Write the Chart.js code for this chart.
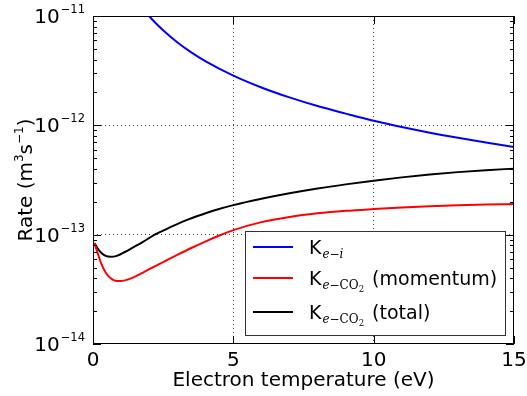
<!DOCTYPE html>
<html>
<head>
<meta charset="utf-8">
<script src="https://cdn.jsdelivr.net/npm/chart.js@4/dist/chart.umd.min.js"></script>
<style>
  body { margin: 0; background: #fff; }
  #wrap { width: 527px; height: 396px; }
</style>
</head>
<body>
<div id="wrap"><canvas id="rates" width="527" height="396"></canvas></div>
<script>
// electron temperature (eV) and rate (m^3 s^-1)
const tempIon = [1.5, 2, 2.5, 3, 3.5, 4, 5, 6, 7, 8, 9, 10, 11, 12, 13, 14, 15]
const rateIon = [1.5e-11, 1.0e-11, 7.4e-12, 5.75e-12, 4.65e-12, 3.87e-12, 2.85e-12, 2.22e-12, 1.8e-12,
                 1.5e-12, 1.28e-12, 1.1e-12, 0.965e-12, 0.857e-12, 0.77e-12, 0.696e-12, 0.635e-12]

const tempMom = [0.05, 0.15, 0.3, 0.45, 0.6, 0.85, 1.1, 1.4, 1.7, 2, 2.5, 3, 3.5, 4, 4.5, 5,
                 6, 7, 8, 9, 10, 11, 12, 13, 14, 15]
const rateMom = [8.4e-14, 7.0e-14, 5.4e-14, 4.5e-14, 4.05e-14, 3.76e-14, 3.8e-14, 4.03e-14, 4.4e-14,
                 4.84e-14, 5.62e-14, 6.53e-14, 7.55e-14, 8.65e-14, 9.82e-14, 1.1e-13, 1.303e-13, 1.452e-13,
                 1.567e-13, 1.652e-13, 1.714e-13, 1.77e-13, 1.816e-13, 1.854e-13, 1.884e-13, 1.91e-13]

const tempTotal = [0.05, 0.15, 0.3, 0.45, 0.62, 0.85, 1.15, 1.45, 1.75, 2.2, 2.5, 2.94, 3.4, 3.89,
                   4.4, 5, 6, 7, 8, 9, 10, 11, 12, 13, 14, 15]
const rateTotal = [8.4e-14, 7.6e-14, 6.8e-14, 6.4e-14, 6.28e-14, 6.4e-14, 6.98e-14, 7.7e-14, 8.5e-14,
                   1.0e-13, 1.09e-13, 1.23e-13, 1.38e-13, 1.53e-13, 1.69e-13, 1.862e-13, 2.128e-13, 2.388e-13,
                   2.642e-13, 2.884e-13, 3.119e-13, 3.342e-13, 3.548e-13, 3.733e-13, 3.89e-13, 4.018e-13]

const xTicks = [0, 5, 10, 15]
const yTicks = [1e-14, 1e-13, 1e-12, 1e-11]
const yTickBase = '10'
const yTickExp = ['−14', '−13', '−12', '−11']

// axis title pieces, odd entries are superscripts
const yTitleParts = ['Rate (m', '3', 's', '−1', ')']
const xTitle = 'Electron temperature (eV)'

// legend: main letter, subscript, trailing text
const legendMain = ['K', 'K', 'K']
const legendSub = ['e−i', 'e−CO2', 'e−CO2']
const legendTail = ['', ' (momentum)', ' (total)']

const FONT = 'DejaVu Sans'

const toPoints = (xs, ys) => xs.map((t, i) => ({ x: t, y: ys[i] }))

const frameAndLegend = {
    id: 'frameAndLegend',
    afterDatasetsDraw(chart) {
        const { ctx, chartArea: a, scales: { x, y } } = chart
        ctx.save()
        ctx.strokeStyle = '#000'
        ctx.lineWidth = 1

        // minor ticks on the log axis, both sides
        ctx.beginPath()
        for (let n = -14; n < -11; n++) {
            for (let m = 2; m < 10; m++) {
                const py = Math.round(y.getPixelForValue(m * Math.pow(10, n))) + 0.5
                ctx.moveTo(a.left, py); ctx.lineTo(a.left + 4, py)
                ctx.moveTo(a.right, py); ctx.lineTo(a.right - 4, py)
            }
        }
        // major ticks
        yTicks.forEach(v => {
            const py = Math.round(y.getPixelForValue(v)) + 0.5
            ctx.moveTo(a.left, py); ctx.lineTo(a.left + 8, py)
            ctx.moveTo(a.right, py); ctx.lineTo(a.right - 8, py)
        })
        xTicks.forEach(v => {
            const px = Math.round(x.getPixelForValue(v)) + 0.5
            ctx.moveTo(px, a.top); ctx.lineTo(px, a.top + 8)
            ctx.moveTo(px, a.bottom); ctx.lineTo(px, a.bottom - 8)
        })
        ctx.stroke()

        // y tick labels with a raised exponent
        ctx.fillStyle = '#000'
        ctx.textBaseline = 'alphabetic'
        ctx.textAlign = 'right'
        yTicks.forEach((v, i) => {
            const py = y.getPixelForValue(v)
            ctx.font = '11.5px "' + FONT + '"'
            const ew = ctx.measureText(yTickExp[i]).width
            ctx.fillText(yTickExp[i], a.left - 8, py - 3)
            ctx.font = '20px "' + FONT + '"'
            ctx.fillText(yTickBase, a.left - 9 - ew, py + 7)
        })

        // y axis title
        ctx.save()
        ctx.translate(32, (a.top + a.bottom) / 2)
        ctx.rotate(-Math.PI / 2)
        ctx.textAlign = 'left'
        const pieceFont = (i) => (i % 2 ? '12px "' : '20px "') + FONT + '"'
        let total = 0
        yTitleParts.forEach((p, i) => { ctx.font = pieceFont(i); total += ctx.measureText(p).width })
        let tx = -total / 2
        yTitleParts.forEach((p, i) => {
            ctx.font = pieceFont(i)
            ctx.fillText(p, tx, i % 2 ? -9 : 0)
            tx += ctx.measureText(p).width
        })
        ctx.restore()

        // legend box
        const bx = 245.5, by = 231.5, bw = 260, bh = 104
        ctx.fillStyle = '#fff'
        ctx.fillRect(bx, by, bw, bh)
        ctx.strokeStyle = '#333'
        ctx.strokeRect(bx, by, bw, bh)

        const rows = [247, 278, 312]
        chart.data.datasets.forEach((ds, i) => {
            const ly = rows[i]
            ctx.strokeStyle = ds.borderColor
            ctx.lineWidth = 2
            ctx.beginPath()
            ctx.moveTo(253, ly); ctx.lineTo(293, ly)
            ctx.stroke()

            const base = ly + 7
            let lx = 309
            ctx.fillStyle = '#000'
            ctx.textAlign = 'left'
            ctx.font = '19px "' + FONT + '"'
            ctx.fillText(legendMain[i], lx, base)
            lx += ctx.measureText(legendMain[i]).width + 1

            for (const ch of legendSub[i]) {
                let dy = 4
                if (ch === 'e' || ch === 'i') ctx.font = 'italic 12px "DejaVu Serif"'
                else if (ch === '2') { ctx.font = '8.5px "DejaVu Serif"'; dy = 7 }
                else ctx.font = '12px "DejaVu Serif"'
                ctx.fillText(ch, lx, base + dy)
                lx += ctx.measureText(ch).width
            }
            ctx.font = '19px "' + FONT + '"'
            ctx.fillText(legendTail[i], lx + 2, base)
        })

        // axes frame
        ctx.strokeStyle = '#000'
        ctx.lineWidth = 1
        ctx.strokeRect(a.left + 0.5, a.top + 0.5, a.right - a.left - 1, a.bottom - a.top - 1)
        ctx.restore()
    }
}

const edgeGrid = (ctx) => {
    const v = ctx.tick && ctx.tick.value
    if (v === 0 || v === 15 || v === 1e-14 || v === 1e-11) return 'rgba(0,0,0,0)'
    return 'rgba(0,0,0,0.75)'
}

const chart = new Chart(document.getElementById('rates'), {
    type: 'scatter',
    data: {
        datasets: [
            { label: 'K e-i', data: toPoints(tempIon, rateIon), borderColor: '#0000ff' },
            { label: 'K e-CO2 (momentum)', data: toPoints(tempMom, rateMom), borderColor: '#ff0000' },
            { label: 'K e-CO2 (total)', data: toPoints(tempTotal, rateTotal), borderColor: '#000000' }
        ].map(ds => Object.assign(ds, {
            showLine: true,
            pointRadius: 0,
            borderWidth: 2,
            cubicInterpolationMode: 'monotone'
        }))
    },
    options: {
        responsive: false,
        animation: false,
        layout: { padding: { top: 16, right: 13, left: 0, bottom: 0 } },
        plugins: { legend: { display: false }, tooltip: { enabled: false } },
        scales: {
            x: {
                type: 'linear',
                min: 0, max: 15,
                afterBuildTicks: (scale) => { scale.ticks = xTicks.map(v => ({ value: v })) },
                afterFit: (scale) => { scale.height = 52; scale.paddingLeft = 0; scale.paddingRight = 0 },
                grid: { color: edgeGrid, lineWidth: 1, drawTicks: false },
                border: { display: false, dash: [1, 3] },
                ticks: { color: '#000', padding: 5, font: { family: FONT, size: 20 }, maxRotation: 0 },
                title: {
                    display: true, text: xTitle, color: '#000',
                    font: { family: FONT, size: 20 }, padding: { top: 0, bottom: 3 }
                }
            },
            y: {
                type: 'logarithmic',
                min: 1e-14, max: 1e-11,
                afterBuildTicks: (scale) => { scale.ticks = yTicks.map(v => ({ value: v })) },
                afterFit: (scale) => { scale.width = 93; scale.paddingTop = 0; scale.paddingBottom = 0 },
                grid: { color: edgeGrid, lineWidth: 1, drawTicks: false },
                border: { display: false, dash: [1, 3] },
                ticks: { display: false }
            }
        }
    },
    plugins: [frameAndLegend]
})
</script>
</body>
</html>
